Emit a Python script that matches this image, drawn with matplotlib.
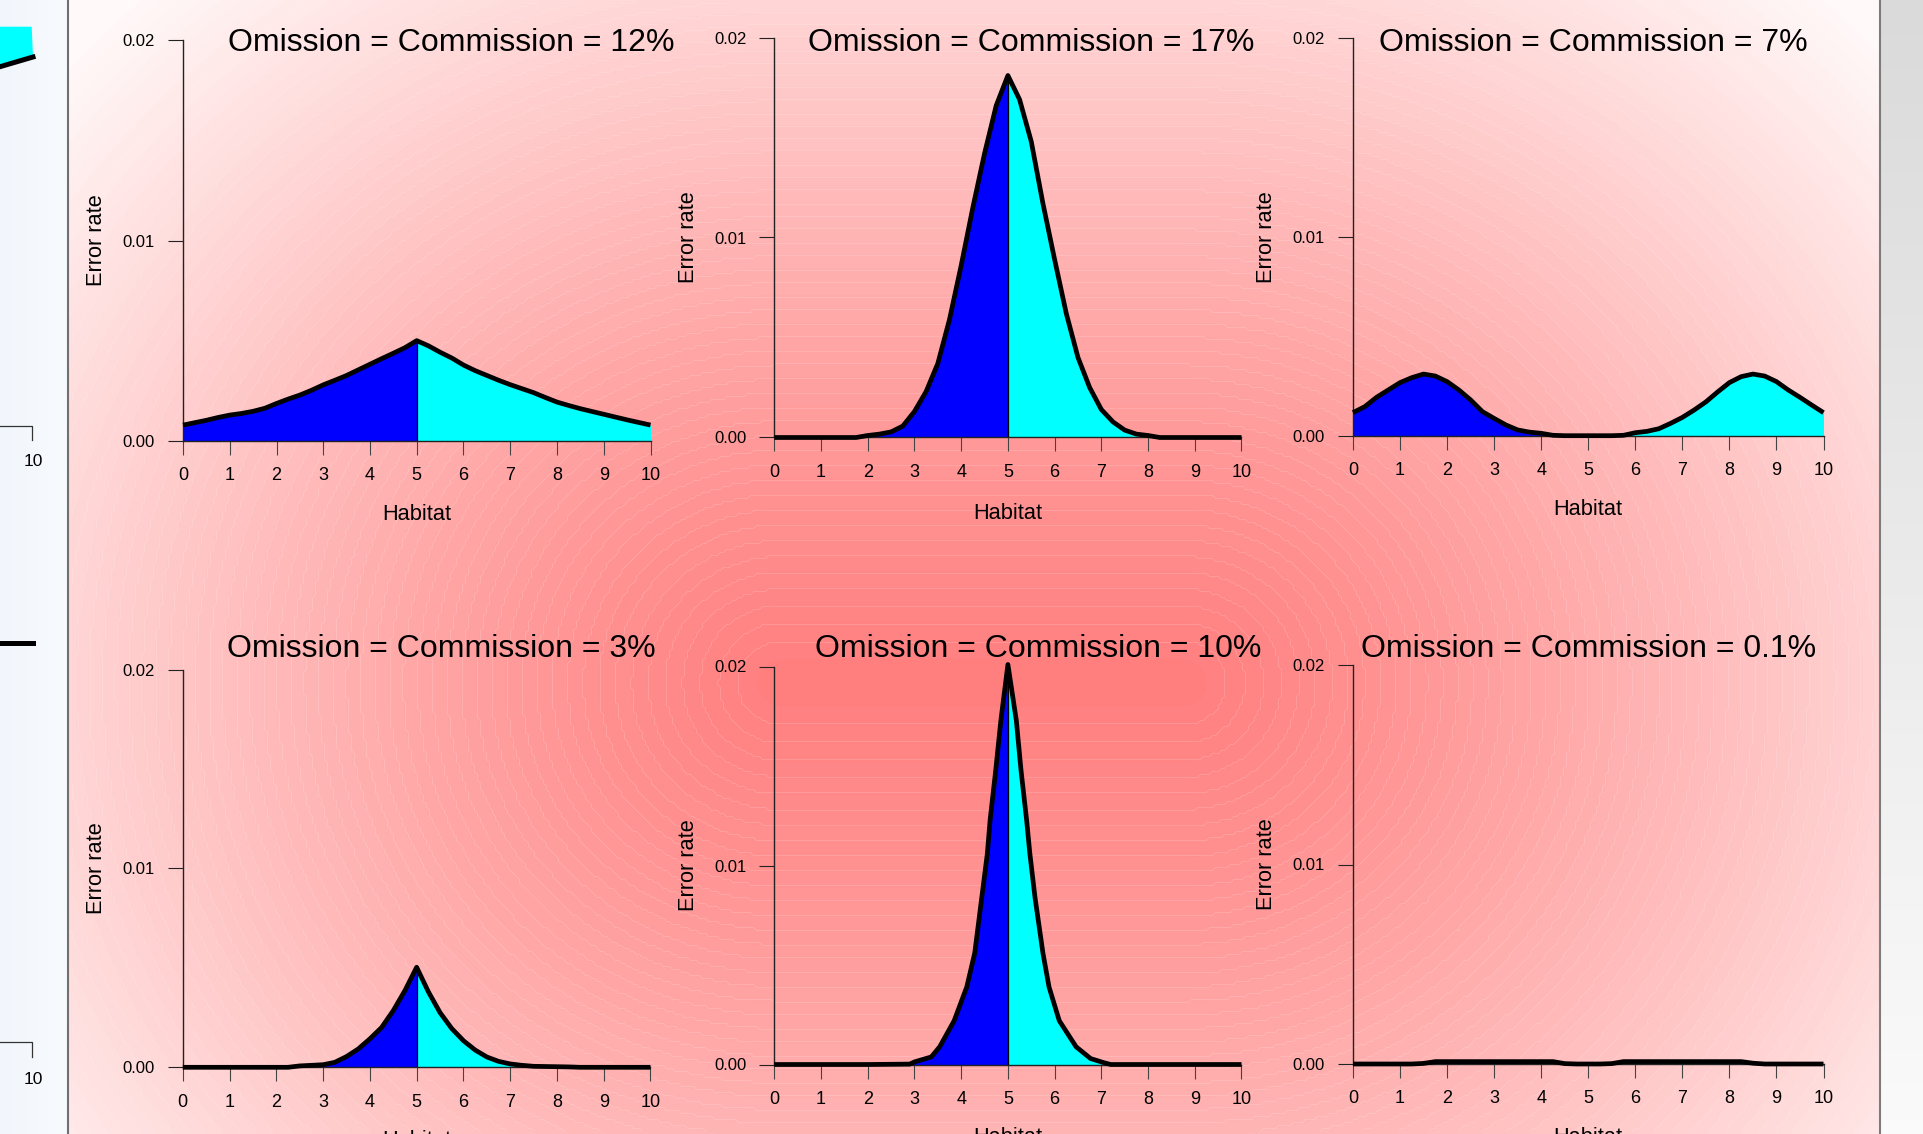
import numpy as np
import matplotlib
matplotlib.use("Agg")
import matplotlib.pyplot as plt

plt.rcParams['font.family'] = ['Liberation Sans', 'DejaVu Sans']

W, H, DPI = 1924, 1134, 100

# ---------------------------------------------------------------- data
habitat = np.linspace(0, 10, 41)

err_12 = [0.00078, 0.00090, 0.00102, 0.00116, 0.00128, 0.00136, 0.00147, 0.00162,
          0.00186, 0.00208, 0.00228, 0.00252, 0.00279, 0.00302, 0.00326, 0.00354,
          0.00382, 0.00410, 0.00437, 0.00465, 0.00500,
          0.00474, 0.00442, 0.00413, 0.00378, 0.00350, 0.00326, 0.00302, 0.00280,
          0.00260, 0.00240, 0.00216, 0.00193, 0.00176, 0.00160, 0.00146, 0.00132,
          0.00118, 0.00104, 0.00091, 0.00078]

err_17 = [0, 0, 0, 0, 0, 0, 0, 0, 0.00010, 0.00017, 0.00028, 0.00057, 0.00130,
          0.00230, 0.00370, 0.00590, 0.00860, 0.01150, 0.01420, 0.01660, 0.01810,
          0.01690, 0.01480, 0.01170, 0.00890, 0.00620, 0.00400, 0.00250, 0.00140,
          0.00078, 0.00037, 0.00017, 0.00010, 0, 0, 0, 0, 0, 0, 0, 0]

err_7 = [0.00116, 0.00146, 0.00193, 0.00230, 0.00267, 0.00292, 0.00310, 0.00300,
         0.00272, 0.00230, 0.00180, 0.00121, 0.00087, 0.00054, 0.00029, 0.00018,
         0.00012, 0.00002, 0, 0, 0,
         0, 0, 0.00002, 0.00015, 0.00022, 0.00035, 0.00062, 0.00092, 0.00129,
         0.00170, 0.00220, 0.00267, 0.00297, 0.00310, 0.00300, 0.00272, 0.00230,
         0.00193, 0.00154, 0.00116]

err_3 = [0, 0, 0, 0, 0, 0, 0, 0, 0, 0, 0.00007, 0.00010, 0.00013, 0.00025, 0.00054,
         0.00092, 0.00143, 0.00200, 0.00285, 0.00386, 0.00503,
         0.00380, 0.00275, 0.00195, 0.00134, 0.00087, 0.00052, 0.00030, 0.00017,
         0.00010, 0.00005, 0.00004, 0.00003, 0.00002, 0, 0, 0, 0, 0, 0, 0]

habitat_10 = [0, 1, 2, 2.9, 3.0, 3.36, 3.54, 3.85, 4.12, 4.29, 4.56, 4.62, 4.74, 4.85,
              5.0, 5.18, 5.28, 5.40, 5.47, 5.58, 5.75, 5.88, 6.1, 6.46, 6.77, 7.04,
              7.2, 8, 9, 10]
err_10 = [0, 0, 0, 0.00002, 0.00013, 0.00038, 0.00089, 0.00220, 0.00390, 0.00560,
          0.01060, 0.01230, 0.01480, 0.01730, 0.02010, 0.01730, 0.01480, 0.01230,
          0.01060, 0.00840, 0.00560, 0.00390, 0.00220, 0.00089, 0.00030, 0.00010,
          0, 0, 0, 0]

err_01 = [0, 0, 0, 0, 0, 0, 0.00003, 0.00012, 0.00012, 0.00012, 0.00012, 0.00012,
          0.00012, 0.00012, 0.00012, 0.00012, 0.00012, 0.00012, 0.00002, 0, 0,
          0, 0.00002, 0.00012, 0.00012, 0.00012, 0.00012, 0.00012, 0.00012, 0.00012,
          0.00012, 0.00012, 0.00012, 0.00012, 0.00004, 0, 0, 0, 0, 0, 0]

titles = ["Omission = Commission = 12%", "Omission = Commission = 17%",
          "Omission = Commission = 7%", "Omission = Commission = 3%",
          "Omission = Commission = 10%", "Omission = Commission = 0.1%"]
x_ticks = list(range(11))
y_ticks = [0.0, 0.01, 0.02]
y_tick_labels = ["0.00", "0.01", "0.02"]

series = [(habitat, err_12), (habitat, err_17), (habitat, err_7),
          (habitat, err_3), (habitat_10, err_10), (habitat, err_01)]

# ---------------------------------------------------------------- layout (pixels)
# plot boxes: left, y of 0.00, right, y of 0.02
boxes = [(183, 440.7, 650.5, 40.4), (774.3, 437.5, 1241.5, 37.5), (1353, 435.7, 1823.5, 38),
         (182.8, 1067.3, 650.5, 669.5), (774.3, 1064.5, 1241.5, 666.5), (1353, 1064, 1823.5, 665)]
title_pos = [(451, 39.3), (1031.3, 39.3), (1593, 39.3),
             (441.5, 645.4), (1038.5, 645.4), (1588.5, 645.4)]
xlab_offset = [71, 74, 71.2, 71, 71, 71]

fig = plt.figure(figsize=(W / DPI, H / DPI), dpi=DPI)


def fx(x):
    return x / W


def fy(y):
    return 1 - y / H


# ---------------------------------------------------------------- background
bg = fig.add_axes([0, 0, 1, 1])
bg.set_axis_off()
bg.set_xlim(0, W)
bg.set_ylim(H, 0)

XX, YY = np.meshgrid(np.arange(W) + 0.5, np.arange(H) + 0.5)
img = np.empty((H, W, 3))

c0 = np.array([0.945, 0.965, 0.990])
c1 = np.array([0.973, 0.984, 0.996])
img[:] = c0 + (c1 - c0) * np.clip(XX / 68, 0, 1)[..., None]

dx = np.maximum(np.abs(XX - 982) - 200, 0)
dy = YY - 683
w = np.clip(np.sqrt((dx / 1000) ** 2 + (dy / 950) ** 2) ** 1.15, 0, 0.97)
w = np.floor(w * 70) / 70
pink = np.stack([np.ones_like(w), 0.5 + 0.5 * w, 0.5 + 0.5 * w], -1)
main = (XX >= 69) & (XX < 1880)
img[main] = pink[main]

g = 0.855 + (0.982 - 0.855) * (YY / H)
right = XX >= 1880
img[right] = np.stack([g, g, g], -1)[right]

bg.imshow(img, extent=(0, W, H, 0), interpolation='nearest', zorder=0, aspect='auto')

# faint seams between the colour bands
step = 3
wm = np.where(main, w, np.nan)[::step, ::step]
bg.contour(XX[::step, ::step], YY[::step, ::step], wm, levels=np.arange(1, 68) / 70,
           colors='white', linewidths=0.5, alpha=0.22, zorder=1)

bg.plot([68, 68], [0, H], color='#707070', lw=1.5, zorder=2)
bg.plot([1880, 1880], [0, H], color='#7c7c7c', lw=1.5, zorder=2)

# edge of the neighbouring page column
bg.fill([0, 31.7, 33, 0], [26.7, 26.7, 57, 66.7], color='#00FFFF', lw=0, zorder=2)
bg.plot([0, 33], [66.7, 57], color='black', lw=3.6, zorder=3)
bg.plot([0, 33], [643.3, 643.3], color='black', lw=3.6, zorder=3)
for ya, yl in [(425.7, 461.7), (1042.3, 1079)]:
    bg.plot([0, 32, 32], [ya, ya, ya + 14.5], color='#333333', lw=0.9, zorder=3)
    bg.text(33, yl, "10", fontsize=12.5, ha='center', va='center', zorder=3)

# ---------------------------------------------------------------- panels
for i, ((l, b, r, t), (hx, hy)) in enumerate(zip(boxes, series)):
    ax = fig.add_axes([fx(l), fy(b), fx(r - l), (b - t) / H])
    ax.patch.set_alpha(0)
    ax.set_xlim(0, 10)
    ax.set_ylim(0, 0.02)
    hx = np.asarray(hx, dtype=float)
    hy = np.asarray(hy, dtype=float)
    lm = hx <= 5
    rm = hx >= 5
    ax.fill_between(hx[lm], 0, hy[lm], color='#0000FF', lw=0, zorder=2)
    ax.fill_between(hx[rm], 0, hy[rm], color='#00FFFF', lw=0, zorder=2)
    peak = hy[hx == 5][0]
    ax.plot([5, 5], [0, peak], color='black', lw=0.9, zorder=3)
    ax.plot(hx, hy, color='black', lw=3.4, zorder=4, clip_on=False,
            solid_joinstyle='round', solid_capstyle='butt')

    for s in ('top', 'right'):
        ax.spines[s].set_visible(False)
    for s in ('left', 'bottom'):
        ax.spines[s].set_color('#222222')
        ax.spines[s].set_linewidth(1.0)

    ax.set_xticks(x_ticks)
    ax.set_xticklabels([str(v) for v in x_ticks], fontsize=13)
    ax.set_yticks(y_ticks)
    ax.set_yticklabels(y_tick_labels, fontsize=12)
    ax.tick_params(axis='x', length=10, width=0.8, color='#444444', pad=9.0)
    ax.tick_params(axis='y', length=10.8, width=0.8, color='#222222', pad=9.3)

    tx, ty = title_pos[i]
    fig.text(fx(tx), fy(ty + 11.4), titles[i], fontsize=23, ha='center', va='baseline')

    fig.text(fx((l + r) / 2), fy(b + xlab_offset[i] + 7.8), "Habitat", fontsize=15.7,
             ha='center', va='baseline')
    fig.text(fx(l - 88.5 + 7.8), fy((b + t) / 2), "Error rate", fontsize=15.7,
             rotation=90, rotation_mode='anchor', ha='center', va='baseline')

fig.savefig('out.png', dpi=DPI)
